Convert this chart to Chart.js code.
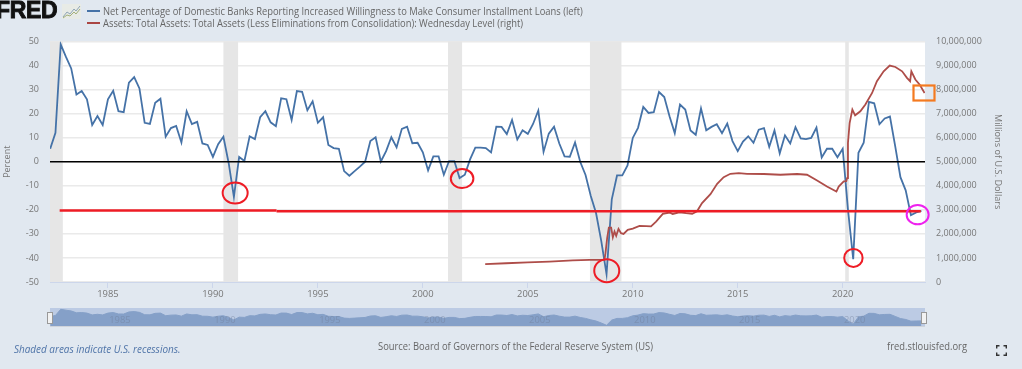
<!DOCTYPE html>
<html>
<head>
<meta charset="utf-8">
<title>FRED</title>
<script src="https://cdn.jsdelivr.net/npm/chart.js@4/dist/chart.umd.min.js"></script>
<style>
  html, body { margin: 0; padding: 0; background: #e1e8f0; overflow: hidden; }
  #page { position: relative; width: 1022px; height: 369px; font-family: "Open Sans", sans-serif; overflow: hidden; filter: blur(0.35px); }
  canvas { position: absolute; display: block; }
  #big_graph { left: 0; top: 0; }
  #nav_graph { left: 40px; top: 308px; }
  .txt { position: absolute; white-space: nowrap; font-size: 10.2px; line-height: 14px; color: #666; transform: scaleX(0.92); transform-origin: left center; }
  .key { position: absolute; left: 87px; width: 13px; height: 1.5px; }
  #logo { position: absolute; left: -4px; top: -2px; font: bold 23px/24px "Liberation Sans", sans-serif; color: #111; -webkit-text-stroke: 0.9px #111; letter-spacing: -0.3px; }
  svg { position: absolute; }
</style>
</head>
<body>
<div id="page">
  <canvas id="big_graph" width="1022" height="369"></canvas>
  <canvas id="nav_graph" width="895" height="19"></canvas>
  <div id="logo">FRED</div>
  <svg style="left:62px;top:4px" width="19" height="15" viewBox="0 0 19 15">
    <rect x="0" y="0" width="19" height="15" fill="#e8ebe6"/>
    <polyline points="1,13 5,8 8,10 12,5 14,7 18,2" fill="none" stroke="#8fa5b5" stroke-width="1"/>
    <polyline points="1,14 5,11 8,12 12,8 14,10 18,5" fill="none" stroke="#a3b07a" stroke-width="1"/>
  </svg>
  <div class="key" style="top:10px;background:#4572a7"></div>
  <div class="key" style="top:22px;background:#aa4643"></div>
  <div class="txt" id="name0" style="left:103px;top:3.5px"></div>
  <div class="txt" id="name1" style="left:103px;top:16px"></div>
  <div class="txt" style="left:14px;top:342px;font-size:10.8px;font-style:italic;color:#4f74a8">Shaded areas indicate U.S. recessions.</div>
  <div class="txt" style="left:378px;top:339px">Source: Board of Governors of the Federal Reserve System (US)</div>
  <div class="txt" style="left:887px;top:339px">fred.stlouisfed.org</div>
  <svg style="left:996px;top:345px" width="11" height="11" viewBox="0 0 11 11">
    <path d="M0.7 3.5V0.7H3.5M7.5 0.7H10.3V3.5M10.3 7.5V10.3H7.5M3.5 10.3H0.7V7.5" fill="none" stroke="#333" stroke-width="1.4"/>
  </svg>
</div>
<script>
const loanName = 'Net Percentage of Domestic Banks Reporting Increased Willingness to Make Consumer Installment Loans (left)';
const assetName = 'Assets: Total Assets: Total Assets (Less Eliminations from Consolidation): Wednesday Level (right)';

// quarterly, first value is 1982 Q2
const loanStart = 1982.25;
const loanValues = [
    5.4, 12, 48.8, 43.6, 38.8, 28, 29.4, 26, 15.3, 19, 15.3, 26, 29.5, 21, 20.6, 32.9,
    35.2, 30.5, 16.2, 15.7, 24.5, 26.2, 10.4, 14, 14.9, 8, 21, 15.7, 16.6, 7.6, 7, 2,
    7.3, 10.4, -0.5, -14.6, 2, 0.3, 10.6, 9.4, 18.5, 21, 16.4, 14.8, 26.4, 26, 17.4, 29.4,
    29.1, 21.4, 25.1, 16.2, 18.5, 7, 5.7, 5.4, -3.9, -5.8, -3.9, -2, 0, 8.6, 10.2, 0.1,
    4.4, 10.2, 6, 13.7, 14.6, 7.7, 7.9, 3.9, -3.6, 2.2, 2.2, -5.4, 0.3, 0.3, -6.8, -5.4,
    1, 5.9, 5.9, 5.7, 3.9, 14.6, 14.5, 11.5, 17.4, 9.3, 13.1, 11.6, 15.7, 21.3, 4.1, 11.7,
    14.6, 7.6, 2.2, 2.1, 8, -0.1, -5.5, -14.2, -21.3, -33, -46.7, -15.6, -5.7, -5.7, -1.5, 9.9,
    14.1, 22.8, 20.3, 20.6, 29, 26.9, 18.9, 11.9, 23.8, 21.7, 13, 11.2, 22.2, 13.1, 14.5, 15.6,
    11.9, 15.9, 8.6, 4.4, 8.4, 10.6, 7.9, 13.3, 14, 6.2, 13, 3.5, 11, 7.6, 14.4, 9.7,
    9.4, 9.9, 14.2, 1.8, 5.4, 5.4, 1.9, 5.4, -19.8, -40.5, 3.7, 7.9, 24.9, 24.3, 15.6, 18,
    18.8, 6.5, -6.4, -11.9, -22.2, -21.1, -20.4
];

const assetYears = [
    2002.97, 2003.97, 2005, 2006.03, 2007.14, 2007.94, 2008.65, 2008.70, 2008.78, 2008.86,
    2008.97, 2009.05, 2009.13, 2009.21, 2009.32, 2009.44, 2009.56, 2009.76, 2010, 2010.32,
    2010.63, 2010.87, 2011.11, 2011.43, 2011.75, 2011.90, 2012.22, 2012.54, 2012.83, 2013.06,
    2013.30, 2013.70, 2014.02, 2014.33, 2014.65, 2015.05, 2015.44, 2016.24, 2017.03, 2017.83,
    2018.30, 2018.78, 2019.25, 2019.70, 2019.81, 2020.05, 2020.17, 2020.21, 2020.25, 2020.33,
    2020.46, 2020.59, 2020.84, 2021.08, 2021.40, 2021.63, 2021.95, 2022.24, 2022.51, 2022.83,
    2023.06, 2023.21, 2023.27, 2023.46, 2023.67, 2023.90
];
const assetValues = [
    740000, 780000, 820000, 850000, 900000, 920000, 920000, 1200000, 1820000, 2260000,
    2260000, 1860000, 2100000, 1920000, 2210000, 2030000, 2000000, 2170000, 2220000, 2330000,
    2320000, 2310000, 2510000, 2830000, 2890000, 2830000, 2900000, 2860000, 2830000, 2940000,
    3280000, 3650000, 4080000, 4360000, 4500000, 4530000, 4500000, 4490000, 4460000, 4490000,
    4460000, 4220000, 3970000, 3760000, 3970000, 4180000, 4190000, 4320000, 5780000, 6610000,
    7170000, 6930000, 7100000, 7380000, 7860000, 8350000, 8760000, 9000000, 8940000, 8760000,
    8490000, 8350000, 8760000, 8420000, 8200000, 7860000
];

const axisStart = 1982.24;
const axisEnd = 2023.92;
const recessionStarts = [1982.24, 1990.5, 2001.2, 2007.96, 2020.12];
const recessionEnds = [1982.85, 1991.2, 2001.87, 2009.46, 2020.29];

// hand drawn marks on top of the chart
const flatYears = [1982.7, 1993.03];
const flatValues = [-20.3, -20.3];
const flatYears2 = [1993.03, 2023.72];
const flatValues2 = [-20.6, -20.6];
const zeroYears = [axisStart, axisEnd];
const zeroValues = [0, 0];
const ringYears = [1991.06, 2001.87, 2008.76, 2020.51, 2023.57];
const ringValues = [-13, -7, -45.3, -40, -22];
const ringWide = [12.5, 11.3, 12.5, 9.2, 11];
const ringTall = [10.5, 9.5, 11.5, 9, 9.7];
const ringColors = ['#ee1c25', '#ee1c25', '#ee1c25', '#ee1c25', '#ee22ee'];
const boxYear = 2023.85;
const boxValue = 28.6;

const navYears = [1985, 1990, 1995, 2000, 2005, 2010, 2015, 2020];

function pairs(xs, ys) {
    return xs.map((x, i) => ({x: x, y: ys[i]}));
}
const loanPoints = loanValues.map((v, i) => ({x: loanStart + i / 4, y: v}));

function lineSet(points, color, width, axis, order) {
    return {
        data: points,
        borderColor: color,
        backgroundColor: color,
        borderWidth: width,
        pointRadius: 0,
        tension: 0,
        yAxisID: axis,
        order: order,
    };
}

const tickFont = {family: 'Open Sans', size: 9};
const tickColor = '#777';

const sketchPlugin = {
    id: 'sketch',
    beforeDraw(chart) {
        const a = chart.chartArea, ctx = chart.ctx;
        ctx.save();
        ctx.fillStyle = '#ffffff';
        ctx.fillRect(a.left, a.top, a.width, a.height);
        ctx.restore();
    },
    beforeDatasetsDraw(chart) {
        const a = chart.chartArea, ctx = chart.ctx, x = chart.scales.x;
        ctx.save();
        ctx.fillStyle = '#e6e6e6';
        recessionStarts.forEach((s, i) => {
            const l = x.getPixelForValue(s), r = x.getPixelForValue(recessionEnds[i]);
            ctx.fillRect(l, a.top, r - l, a.height);
        });
        ctx.restore();
    },
    afterDatasetsDraw(chart) {
        const ctx = chart.ctx, x = chart.scales.x, y = chart.scales.y;
        ctx.save();
        ctx.lineWidth = 2;
        ringYears.forEach((yr, i) => {
            ctx.strokeStyle = ringColors[i];
            ctx.beginPath();
            ctx.ellipse(x.getPixelForValue(yr), y.getPixelForValue(ringValues[i]), ringWide[i], ringTall[i], 0, 0, Math.PI * 2);
            ctx.stroke();
        });
        ctx.lineWidth = 2.2;
        ctx.strokeStyle = '#f47a20';
        ctx.strokeRect(Math.round(x.getPixelForValue(boxYear)) - 10.5, Math.round(y.getPixelForValue(boxValue)) - 7.5, 21, 15);
        ctx.restore();
    }
};

new Chart(document.getElementById('big_graph'), {
    type: 'line',
    plugins: [sketchPlugin],
    data: {
        datasets: [
            lineSet(loanPoints, '#4572a7', 1.8, 'y', 5),
            lineSet(pairs(assetYears, assetValues), '#ae4d49', 1.8, 'y1', 4),
            lineSet(pairs(zeroYears, zeroValues), '#000000', 1.6, 'y', 3),
            lineSet(pairs(flatYears, flatValues), '#ee1c25', 2.5, 'y', 2),
            lineSet(pairs(flatYears2, flatValues2), '#ee1c25', 2.5, 'y', 1),
        ]
    },
    options: {
        responsive: false,
        animation: false,
        layout: {padding: {top: 41.5, left: 0, right: 0, bottom: 0}},
        plugins: {legend: {display: false}, tooltip: {enabled: false}, title: {display: false}},
        scales: {
            x: {
                type: 'linear',
                min: axisStart,
                max: axisEnd,
                afterFit: s => { s.height = 87; },
                border: {color: '#ccd6eb'},
                grid: {drawOnChartArea: false, tickLength: 6, color: '#ccd6eb'},
                ticks: {
                    stepSize: 5,
                    includeBounds: false,
                    maxRotation: 0,
                    autoSkip: false,
                    padding: 1,
                    color: tickColor,
                    font: {family: 'Open Sans', size: 9.4},
                    callback: v => String(v),
                },
            },
            y: {
                position: 'left',
                min: -50,
                max: 50,
                afterFit: s => { s.width = 50; },
                border: {display: false},
                grid: {color: '#eaeaea', lineWidth: 1.5, drawTicks: false},
                title: {display: true, text: 'Percent', color: tickColor, padding: {top: 2, bottom: 0}, font: tickFont},
                ticks: {stepSize: 10, padding: 11, color: tickColor, font: tickFont},
            },
            y1: {
                position: 'right',
                min: 0,
                max: 10000000,
                afterFit: s => { s.width = 97; },
                border: {display: false},
                grid: {drawOnChartArea: false, drawTicks: false},
                title: {display: true, text: 'Millions of U.S. Dollars', color: tickColor, padding: {top: 18.5, bottom: 0}, font: {family: 'Open Sans', size: 9.2}},
                ticks: {stepSize: 1000000, padding: 11, color: tickColor, font: tickFont,
                    callback: v => v.toLocaleString('en-US')},
            },
        },
    },
});

const navPlugin = {
    id: 'navExtras',
    beforeDraw(chart) {
        const a = chart.chartArea, ctx = chart.ctx;
        ctx.save();
        ctx.fillStyle = '#bccbe4';
        ctx.fillRect(a.left, a.top, a.width, a.height);
        ctx.restore();
    },
    afterDraw(chart) {
        const a = chart.chartArea, ctx = chart.ctx, x = chart.scales.x;
        ctx.save();
        ctx.font = '9.4px "Open Sans"';
        ctx.fillStyle = 'rgba(110,125,150,0.45)';
        ctx.textAlign = 'center';
        ctx.textBaseline = 'middle';
        navYears.forEach(yr => ctx.fillText(String(yr), x.getPixelForValue(yr) + 12, a.top + 12.5));
        ctx.fillStyle = '#cfd3da';
        ctx.fillRect(a.left, a.bottom - 1, a.width, 1);
        [axisStart, axisEnd].forEach((yr, i) => {
            const px = Math.round(x.getPixelForValue(yr)) - (i ? 1 : 0);
            ctx.fillStyle = '#f2f2f2';
            ctx.strokeStyle = '#999999';
            ctx.lineWidth = 1;
            ctx.fillRect(px - 2.5, a.top + 4.5, 5, 11);
            ctx.strokeRect(px - 2.5, a.top + 4.5, 5, 11);
        });
        ctx.restore();
    }
};

new Chart(document.getElementById('nav_graph'), {
    type: 'line',
    plugins: [navPlugin],
    data: {
        datasets: [{
            data: loanPoints,
            borderColor: '#85a0c8',
            backgroundColor: '#85a0c8',
            borderWidth: 1,
            pointRadius: 0,
            fill: 'start',
        }]
    },
    options: {
        responsive: false,
        animation: false,
        layout: {padding: {left: 10, right: 10, top: 0, bottom: 0}},
        plugins: {legend: {display: false}, tooltip: {enabled: false}},
        scales: {
            x: {type: 'linear', min: axisStart, max: axisEnd, display: false},
            y: {min: -57, max: 56.6, display: false},
        },
    },
});

document.getElementById('name0').textContent = loanName;
document.getElementById('name1').textContent = assetName;
</script>
</body>
</html>
